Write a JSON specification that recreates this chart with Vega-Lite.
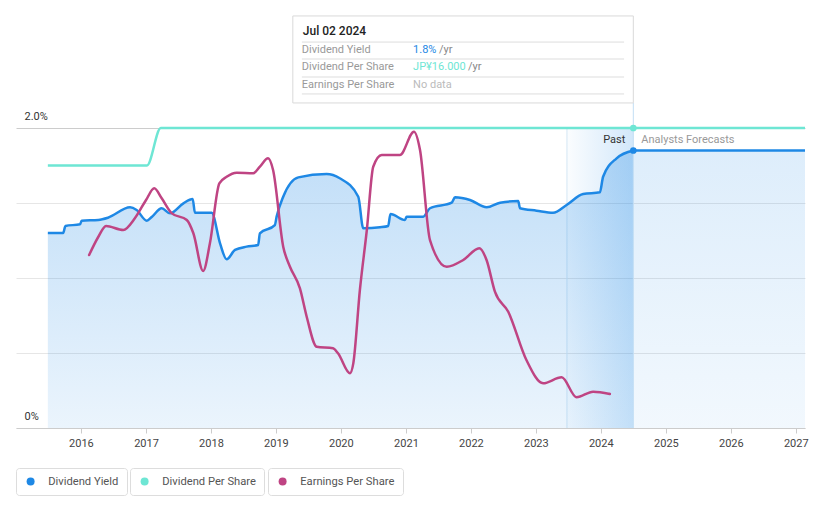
{
  "$schema": "https://vega.github.io/schema/vega-lite/v6.json",
  "width": 789,
  "height": 300,
  "autosize": {"type": "none"},
  "padding": {"left": 16, "top": 128, "right": 16, "bottom": 80},
  "background": "#ffffff",
  "config": {
    "font": "Roboto",
    "view": {"stroke": null},
    "legend": {
      "orient": "none",
      "strokeColor": "#dddddd",
      "fillColor": "#ffffff",
      "cornerRadius": 3,
      "padding": 8,
      "symbolType": "circle",
      "symbolSize": 64,
      "symbolOffset": 1,
      "symbolStrokeWidth": 0,
      "labelOffset": 12,
      "labelFontSize": 11.2,
      "labelColor": "#555555",
      "labelFont": "Roboto"
    }
  },
  "datasets": {
    "yieldPast": [
      {"date": "2015-06-29", "yield": 1.30},
      {"date": "2015-09-23", "yield": 1.30},
      {"date": "2015-10-06", "yield": 1.347},
      {"date": "2015-12-27", "yield": 1.358},
      {"date": "2016-01-05", "yield": 1.382},
      {"date": "2016-04-08", "yield": 1.387},
      {"date": "2016-06-01", "yield": 1.402},
      {"date": "2016-10-03", "yield": 1.471},
      {"date": "2016-11-09", "yield": 1.453},
      {"date": "2017-01-05", "yield": 1.382},
      {"date": "2017-02-02", "yield": 1.407},
      {"date": "2017-03-30", "yield": 1.465},
      {"date": "2017-05-16", "yield": 1.431},
      {"date": "2017-07-30", "yield": 1.498},
      {"date": "2017-09-20", "yield": 1.527},
      {"date": "2017-10-03", "yield": 1.435},
      {"date": "2018-01-05", "yield": 1.435},
      {"date": "2018-02-21", "yield": 1.231},
      {"date": "2018-03-30", "yield": 1.125},
      {"date": "2018-05-16", "yield": 1.187},
      {"date": "2018-07-20", "yield": 1.209},
      {"date": "2018-09-23", "yield": 1.22},
      {"date": "2018-10-03", "yield": 1.298},
      {"date": "2018-12-26", "yield": 1.353},
      {"date": "2019-01-05", "yield": 1.409},
      {"date": "2019-02-11", "yield": 1.542},
      {"date": "2019-05-07", "yield": 1.671},
      {"date": "2019-10-13", "yield": 1.693},
      {"date": "2019-12-26", "yield": 1.665},
      {"date": "2020-04-08", "yield": 1.542},
      {"date": "2020-05-06", "yield": 1.331},
      {"date": "2020-08-08", "yield": 1.338},
      {"date": "2020-09-23", "yield": 1.347},
      {"date": "2020-10-06", "yield": 1.427},
      {"date": "2020-12-26", "yield": 1.387},
      {"date": "2021-01-05", "yield": 1.409},
      {"date": "2021-04-08", "yield": 1.409},
      {"date": "2021-05-16", "yield": 1.465},
      {"date": "2021-09-15", "yield": 1.502},
      {"date": "2021-10-04", "yield": 1.538},
      {"date": "2021-12-27", "yield": 1.52},
      {"date": "2022-03-31", "yield": 1.471},
      {"date": "2022-06-14", "yield": 1.502},
      {"date": "2022-09-24", "yield": 1.513},
      {"date": "2022-10-04", "yield": 1.465},
      {"date": "2023-01-05", "yield": 1.449},
      {"date": "2023-04-08", "yield": 1.435},
      {"date": "2023-06-23", "yield": 1.487},
      {"date": "2023-09-24", "yield": 1.56},
      {"date": "2023-12-27", "yield": 1.571},
      {"date": "2024-01-14", "yield": 1.675},
      {"date": "2024-03-30", "yield": 1.798},
      {"date": "2024-07-02", "yield": 1.85}
    ],
    "yieldForecast": [
      {"date": "2024-07-02", "yield": 1.85},
      {"date": "2027-02-22", "yield": 1.85}
    ],
    "dps": [
      {"date": "2015-06-29", "dps": 14},
      {"date": "2017-01-06", "dps": 14},
      {"date": "2017-03-25", "dps": 16},
      {"date": "2024-07-02", "dps": 16},
      {"date": "2027-02-22", "dps": 16}
    ],
    "eps": [
      {"date": "2016-02-16", "eps": 115.3},
      {"date": "2016-04-08", "eps": 127.5},
      {"date": "2016-05-21", "eps": 134.7},
      {"date": "2016-08-26", "eps": 132.0},
      {"date": "2016-10-30", "eps": 139.8},
      {"date": "2017-01-01", "eps": 152.0},
      {"date": "2017-02-16", "eps": 159.8},
      {"date": "2017-03-30", "eps": 153.1},
      {"date": "2017-05-26", "eps": 143.1},
      {"date": "2017-08-18", "eps": 138.7},
      {"date": "2017-09-24", "eps": 129.8},
      {"date": "2017-11-18", "eps": 104.7},
      {"date": "2017-12-26", "eps": 123.1},
      {"date": "2018-02-17", "eps": 163.1},
      {"date": "2018-03-30", "eps": 167.5},
      {"date": "2018-05-26", "eps": 170.2},
      {"date": "2018-08-27", "eps": 169.8},
      {"date": "2018-10-03", "eps": 174.2},
      {"date": "2018-11-18", "eps": 179.8},
      {"date": "2018-12-16", "eps": 172.0},
      {"date": "2019-02-11", "eps": 120.9},
      {"date": "2019-03-21", "eps": 107.5},
      {"date": "2019-05-16", "eps": 93.1},
      {"date": "2019-06-23", "eps": 74.2},
      {"date": "2019-08-18", "eps": 54.2},
      {"date": "2019-11-18", "eps": 53.1},
      {"date": "2019-12-16", "eps": 49.8},
      {"date": "2020-02-21", "eps": 36.5},
      {"date": "2020-03-11", "eps": 43.1},
      {"date": "2020-04-17", "eps": 92.0},
      {"date": "2020-05-26", "eps": 132.0},
      {"date": "2020-07-01", "eps": 174.2},
      {"date": "2020-08-18", "eps": 182.0},
      {"date": "2020-11-28", "eps": 182.0},
      {"date": "2021-02-15", "eps": 197.5},
      {"date": "2021-03-21", "eps": 185.3},
      {"date": "2021-05-16", "eps": 125.3},
      {"date": "2021-08-18", "eps": 107.5},
      {"date": "2021-11-19", "eps": 112.0},
      {"date": "2022-02-17", "eps": 119.8},
      {"date": "2022-03-30", "eps": 112.0},
      {"date": "2022-05-16", "eps": 90.9},
      {"date": "2022-07-30", "eps": 77.5},
      {"date": "2022-11-09", "eps": 45.3},
      {"date": "2023-02-11", "eps": 29.8},
      {"date": "2023-05-26", "eps": 33.8},
      {"date": "2023-08-18", "eps": 20.5},
      {"date": "2023-11-19", "eps": 24.2},
      {"date": "2024-02-21", "eps": 22.7}
    ],
    "epsLast": [
      {"date": "2024-02-21", "eps": 22.7}
    ],
    "one": [{}]
  },
  "layer": [
    {
      "layer": [
        {
          "data": {"name": "one"},
          "mark": {
            "type": "rect",
            "fill": {"gradient": "linear", "x1": 0, "y1": 0, "x2": 1, "y2": 0,
              "stops": [{"offset": 0, "color": "rgba(30,136,229,0.02)"}, {"offset": 1, "color": "rgba(30,136,229,0.2)"}]}
          },
          "encoding": {
            "x": {
              "datum": {"year": 2023, "month": 6, "date": 25},
              "type": "temporal",
              "title": null,
              "scale": {"domain": [{"year": 2015, "month": 1, "date": 1}, {"year": 2027, "month": 2, "date": 22}]},
              "axis": {
                "values": [
                  {"year": 2016, "month": 1, "date": 1}, {"year": 2017, "month": 1, "date": 1},
                  {"year": 2018, "month": 1, "date": 1}, {"year": 2019, "month": 1, "date": 1},
                  {"year": 2020, "month": 1, "date": 1}, {"year": 2021, "month": 1, "date": 1},
                  {"year": 2022, "month": 1, "date": 1}, {"year": 2023, "month": 1, "date": 1},
                  {"year": 2024, "month": 1, "date": 1}, {"year": 2025, "month": 1, "date": 1},
                  {"year": 2026, "month": 1, "date": 1}, {"year": 2027, "month": 1, "date": 1}
                ],
                "format": "%Y",
                "grid": false,
                "title": null,
                "domainColor": "#cccccc",
                "tickColor": "#cccccc",
                "tickSize": 5,
                "labelColor": "#444444",
                "labelFontSize": 11,
                "labelPadding": 4,
                "labelFlush": false,
                "labelOverlap": false
              }
            },
            "x2": {"datum": {"year": 2024, "month": 7, "date": 2}},
            "y": {
              "datum": 0,
              "type": "quantitative",
              "scale": {"domain": [0, 2], "nice": false},
              "axis": {
                "values": [0, 0.5, 1, 1.5, 2],
                "title": null,
                "domain": false,
                "ticks": false,
                "tickSize": 0,
                "grid": true,
                "gridColor": {"condition": {"test": "datum.value === 2", "value": "#cccccc"}, "value": "#e6e6e6"},
                "labelExpr": "datum.value === 0 ? '0%' : (datum.value === 2 ? '2.0%' : '')",
                "labelAlign": "left",
                "labelBaseline": "middle",
                "labelPadding": -8,
                "labelOffset": -12,
                "labelColor": "#333333",
                "labelFontSize": 11
              }
            },
            "y2": {"datum": 2}
          }
        },
        {
          "data": {"name": "one"},
          "mark": {"type": "rule", "stroke": "#d3e6f5", "strokeWidth": 1},
          "encoding": {
            "x": {"datum": {"year": 2023, "month": 6, "date": 25}, "type": "temporal"},
            "y": {"datum": 0, "type": "quantitative"},
            "y2": {"datum": 2}
          }
        },
        {
          "data": {"name": "yieldPast"},
          "mark": {
            "type": "area", "interpolate": "monotone",
            "fill": {"gradient": "linear", "x1": 0, "y1": 0, "x2": 0, "y2": 1,
              "stops": [{"offset": 0, "color": "rgba(30,136,229,0.28)"}, {"offset": 1, "color": "rgba(30,136,229,0.09)"}]}
          },
          "encoding": {
            "x": {"field": "date", "type": "temporal", "title": null},
            "y": {"field": "yield", "type": "quantitative", "title": null}
          }
        },
        {
          "data": {"name": "yieldForecast"},
          "mark": {
            "type": "area",
            "fill": {"gradient": "linear", "x1": 0, "y1": 0, "x2": 0, "y2": 1,
              "stops": [{"offset": 0, "color": "rgba(30,136,229,0.15)"}, {"offset": 1, "color": "rgba(30,136,229,0.06)"}]}
          },
          "encoding": {
            "x": {"field": "date", "type": "temporal", "title": null},
            "y": {"field": "yield", "type": "quantitative", "title": null}
          }
        },
        {
          "data": {"name": "one"},
          "mark": {"type": "rule", "stroke": "#c2def4", "strokeWidth": 1},
          "encoding": {
            "x": {"datum": {"year": 2024, "month": 7, "date": 2}, "type": "temporal"},
            "y": {"datum": 0, "type": "quantitative"},
            "y2": {"datum": 2.167}
          }
        },
        {
          "data": {"name": "yieldPast"},
          "mark": {"type": "line", "interpolate": "monotone", "stroke": "#1e88e5", "strokeWidth": 2.5},
          "encoding": {
            "x": {"field": "date", "type": "temporal", "title": null},
            "y": {"field": "yield", "type": "quantitative", "title": null}
          }
        },
        {
          "data": {"name": "yieldForecast"},
          "mark": {"type": "line", "stroke": "#1e88e5", "strokeWidth": 2.5},
          "encoding": {
            "x": {"field": "date", "type": "temporal", "title": null},
            "y": {"field": "yield", "type": "quantitative", "title": null}
          }
        },
        {
          "data": {"name": "one"},
          "mark": {"type": "point", "filled": true, "size": 45, "opacity": 1},
          "encoding": {
            "x": {"datum": {"year": 2024, "month": 7, "date": 2}, "type": "temporal"},
            "y": {"datum": 1.85, "type": "quantitative"},
            "color": {
              "datum": "Dividend Yield",
              "type": "nominal",
              "scale": {"domain": ["Dividend Yield"], "range": ["#1e88e5"]},
              "legend": {"title": null, "orient": "none", "legendX": 0, "legendY": 340}
            }
          }
        },
        {
          "data": {"name": "one"},
          "mark": {"type": "text", "text": "Past", "align": "right", "baseline": "middle", "dx": -8, "fontSize": 11, "color": "#333333"},
          "encoding": {
            "x": {"datum": {"year": 2024, "month": 7, "date": 2}, "type": "temporal"},
            "y": {"datum": 1.92, "type": "quantitative"}
          }
        },
        {
          "data": {"name": "one"},
          "mark": {"type": "text", "text": "Analysts Forecasts", "align": "left", "baseline": "middle", "dx": 8, "fontSize": 11, "color": "#999999"},
          "encoding": {
            "x": {"datum": {"year": 2024, "month": 7, "date": 2}, "type": "temporal"},
            "y": {"datum": 1.92, "type": "quantitative"}
          }
        },
        {
          "data": {"name": "one"},
          "mark": {"type": "rect", "fill": "#ffffff", "stroke": "#d9d9d9", "strokeWidth": 1},
          "encoding": {
            "x": {"datum": {"year": 2019, "month": 4, "date": 6}, "type": "temporal"},
            "x2": {"datum": {"year": 2024, "month": 7, "date": 2}},
            "y": {"datum": 2.747, "type": "quantitative"},
            "y2": {"datum": 2.167}
          }
        },
        {
          "data": {"name": "one"},
          "mark": {"type": "text", "text": "Jul 02 2024", "align": "left", "baseline": "middle", "dx": 10, "fontSize": 12, "fontWeight": 500, "color": "#222222"},
          "encoding": {
            "x": {"datum": {"year": 2019, "month": 4, "date": 6}, "type": "temporal"},
            "y": {"datum": 2.647, "type": "quantitative"}
          }
        },
        {
          "data": {"name": "one"},
          "mark": {"type": "rule", "stroke": "#dddddd", "strokeWidth": 1},
          "encoding": {
            "x": {"datum": {"year": 2019, "month": 5, "date": 27}, "type": "temporal"},
            "x2": {"datum": {"year": 2024, "month": 5, "date": 11}},
            "y": {"datum": 2.573, "type": "quantitative"}
          }
        },
        {
          "data": {"name": "one"},
          "mark": {"type": "rule", "stroke": "#dddddd", "strokeWidth": 1},
          "encoding": {
            "x": {"datum": {"year": 2019, "month": 5, "date": 27}, "type": "temporal"},
            "x2": {"datum": {"year": 2024, "month": 5, "date": 11}},
            "y": {"datum": 2.46, "type": "quantitative"}
          }
        },
        {
          "data": {"name": "one"},
          "mark": {"type": "rule", "stroke": "#dddddd", "strokeWidth": 1},
          "encoding": {
            "x": {"datum": {"year": 2019, "month": 5, "date": 27}, "type": "temporal"},
            "x2": {"datum": {"year": 2024, "month": 5, "date": 11}},
            "y": {"datum": 2.34, "type": "quantitative"}
          }
        },
        {
          "data": {"name": "one"},
          "mark": {"type": "rule", "stroke": "#dddddd", "strokeWidth": 1},
          "encoding": {
            "x": {"datum": {"year": 2019, "month": 5, "date": 27}, "type": "temporal"},
            "x2": {"datum": {"year": 2024, "month": 5, "date": 11}},
            "y": {"datum": 2.227, "type": "quantitative"}
          }
        },
        {
          "data": {"name": "one"},
          "mark": {"type": "text", "text": "Dividend Yield", "align": "left", "baseline": "middle", "dx": 9, "fontSize": 11, "color": "#999999"},
          "encoding": {
            "x": {"datum": {"year": 2019, "month": 4, "date": 6}, "type": "temporal"},
            "y": {"datum": 2.52, "type": "quantitative"}
          }
        },
        {
          "data": {"name": "one"},
          "mark": {"type": "text", "text": "Dividend Per Share", "align": "left", "baseline": "middle", "dx": 9, "fontSize": 11, "color": "#999999"},
          "encoding": {
            "x": {"datum": {"year": 2019, "month": 4, "date": 6}, "type": "temporal"},
            "y": {"datum": 2.407, "type": "quantitative"}
          }
        },
        {
          "data": {"name": "one"},
          "mark": {"type": "text", "text": "Earnings Per Share", "align": "left", "baseline": "middle", "dx": 9, "fontSize": 11, "color": "#999999"},
          "encoding": {
            "x": {"datum": {"year": 2019, "month": 4, "date": 6}, "type": "temporal"},
            "y": {"datum": 2.287, "type": "quantitative"}
          }
        },
        {
          "data": {"name": "one"},
          "mark": {"type": "text", "text": "1.8%", "align": "left", "baseline": "middle", "fontSize": 11, "color": "#1e88e5"},
          "encoding": {
            "x": {"datum": {"year": 2021, "month": 2, "date": 10}, "type": "temporal"},
            "y": {"datum": 2.52, "type": "quantitative"}
          }
        },
        {
          "data": {"name": "one"},
          "mark": {"type": "text", "text": "/yr", "align": "left", "baseline": "middle", "dx": 26, "fontSize": 11, "color": "#888888"},
          "encoding": {
            "x": {"datum": {"year": 2021, "month": 2, "date": 10}, "type": "temporal"},
            "y": {"datum": 2.52, "type": "quantitative"}
          }
        },
        {
          "data": {"name": "one"},
          "mark": {"type": "text", "text": "JP¥16.000", "align": "left", "baseline": "middle", "fontSize": 11, "color": "#6ee6d4"},
          "encoding": {
            "x": {"datum": {"year": 2021, "month": 2, "date": 10}, "type": "temporal"},
            "y": {"datum": 2.407, "type": "quantitative"}
          }
        },
        {
          "data": {"name": "one"},
          "mark": {"type": "text", "text": "/yr", "align": "left", "baseline": "middle", "dx": 55, "fontSize": 11, "color": "#888888"},
          "encoding": {
            "x": {"datum": {"year": 2021, "month": 2, "date": 10}, "type": "temporal"},
            "y": {"datum": 2.407, "type": "quantitative"}
          }
        },
        {
          "data": {"name": "one"},
          "mark": {"type": "text", "text": "No data", "align": "left", "baseline": "middle", "fontSize": 11, "color": "#bbbbbb"},
          "encoding": {
            "x": {"datum": {"year": 2021, "month": 2, "date": 10}, "type": "temporal"},
            "y": {"datum": 2.287, "type": "quantitative"}
          }
        }
      ]
    },
    {
      "layer": [
        {
          "data": {"name": "dps"},
          "mark": {"type": "line", "interpolate": "monotone", "stroke": "#6ee6d4", "strokeWidth": 2.5},
          "encoding": {
            "x": {"field": "date", "type": "temporal", "title": null},
            "y": {"field": "dps", "type": "quantitative", "scale": {"domain": [0, 16], "nice": false}, "axis": null}
          }
        },
        {
          "data": {"name": "one"},
          "mark": {"type": "point", "filled": true, "size": 45, "opacity": 1},
          "encoding": {
            "x": {"datum": {"year": 2024, "month": 7, "date": 2}, "type": "temporal"},
            "y": {"datum": 16, "type": "quantitative", "scale": {"domain": [0, 16], "nice": false}, "axis": null},
            "color": {
              "datum": "Dividend Per Share",
              "type": "nominal",
              "scale": {"domain": ["Dividend Per Share"], "range": ["#6ee6d4"]},
              "legend": {"title": null, "orient": "none", "legendX": 114, "legendY": 340}
            }
          }
        }
      ]
    },
    {
      "layer": [
        {
          "data": {"name": "eps"},
          "mark": {"type": "line", "interpolate": "monotone", "stroke": "#bf4483", "strokeWidth": 2.5, "strokeCap": "round"},
          "encoding": {
            "x": {"field": "date", "type": "temporal", "title": null},
            "y": {"field": "eps", "type": "quantitative", "scale": {"domain": [0, 200], "nice": false}, "axis": null}
          }
        },
        {
          "data": {"name": "epsLast"},
          "mark": {"type": "point", "filled": true, "size": 5, "opacity": 1},
          "encoding": {
            "x": {"field": "date", "type": "temporal", "title": null},
            "y": {"field": "eps", "type": "quantitative", "scale": {"domain": [0, 200], "nice": false}, "axis": null},
            "color": {
              "datum": "Earnings Per Share",
              "type": "nominal",
              "scale": {"domain": ["Earnings Per Share"], "range": ["#bf4483"]},
              "legend": {"title": null, "orient": "none", "legendX": 252, "legendY": 340}
            }
          }
        }
      ]
    }
  ],
  "resolve": {
    "scale": {"y": "independent", "color": "independent"},
    "legend": {"color": "independent"}
  }
}
